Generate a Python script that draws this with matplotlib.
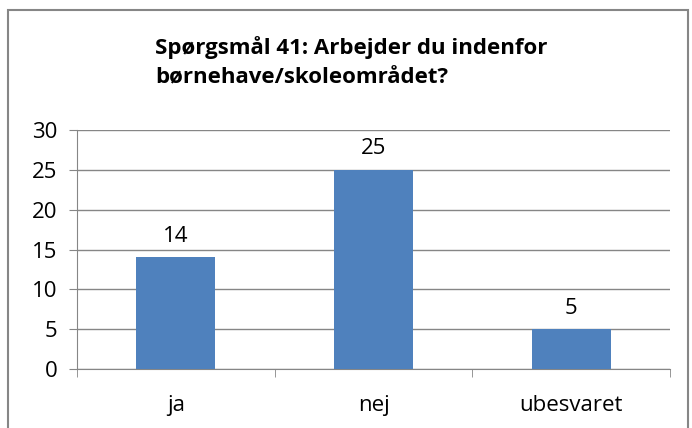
import matplotlib
matplotlib.use('Agg')
import matplotlib.pyplot as plt
from matplotlib.patches import Rectangle

categories = ['ja', 'nej', 'ubesvaret']
counts = [14, 25, 5]
y_ticks = [0, 5, 10, 15, 20, 25, 30]
title = 'Spørgsmål 41: Arbejder du indenfor\nbørnehave/skoleområdet?'

plt.rcParams['font.family'] = ['Open Sans', 'DejaVu Sans']

W, H = 692, 428
fig = plt.figure(figsize=(W / 100, H / 100), dpi=100)
ax = fig.add_axes([77 / W, 1 - 369 / H, (670 - 77) / W, (369 - 130) / H])

grey = '#868686'
x = range(len(categories))
bars = ax.bar(x, counts, width=0.4, color='#4F81BD', zorder=3)
for b, v in zip(bars, counts):
    ax.text(b.get_x() + b.get_width() / 2, v + 1.3, str(v),
            ha='center', va='bottom', fontsize=16)

ax.set_xlim(-0.5, len(categories) - 0.5)
ax.set_ylim(0, 30)
ax.set_yticks(y_ticks)
ax.yaxis.grid(True, color=grey, linewidth=1, zorder=0)
ax.set_xticks(list(x))
ax.set_xticklabels(categories, fontsize=16)
ax.set_xticks([i - 0.5 for i in range(len(categories) + 1)], minor=True)
ax.tick_params(axis='x', which='major', length=0, pad=19)
ax.tick_params(axis='x', which='minor', length=6, color=grey, direction='out')
ax.tick_params(axis='y', length=6, color=grey, labelsize=16, pad=8)

for s in ['top', 'right']:
    ax.spines[s].set_visible(False)
for s in ['left', 'bottom']:
    ax.spines[s].set_color(grey)

fig.text(155 / W, 1 - 36 / H, title, ha='left', va='top',
         fontsize=16, fontweight='bold', linespacing=1.5)

fig.patches.append(Rectangle((8 / W, -0.1), (688 - 8) / W, 1.1 - 10 / H,
                             transform=fig.transFigure, fill=False,
                             edgecolor=grey, linewidth=1.5))

fig.savefig('out.png', dpi=100)
